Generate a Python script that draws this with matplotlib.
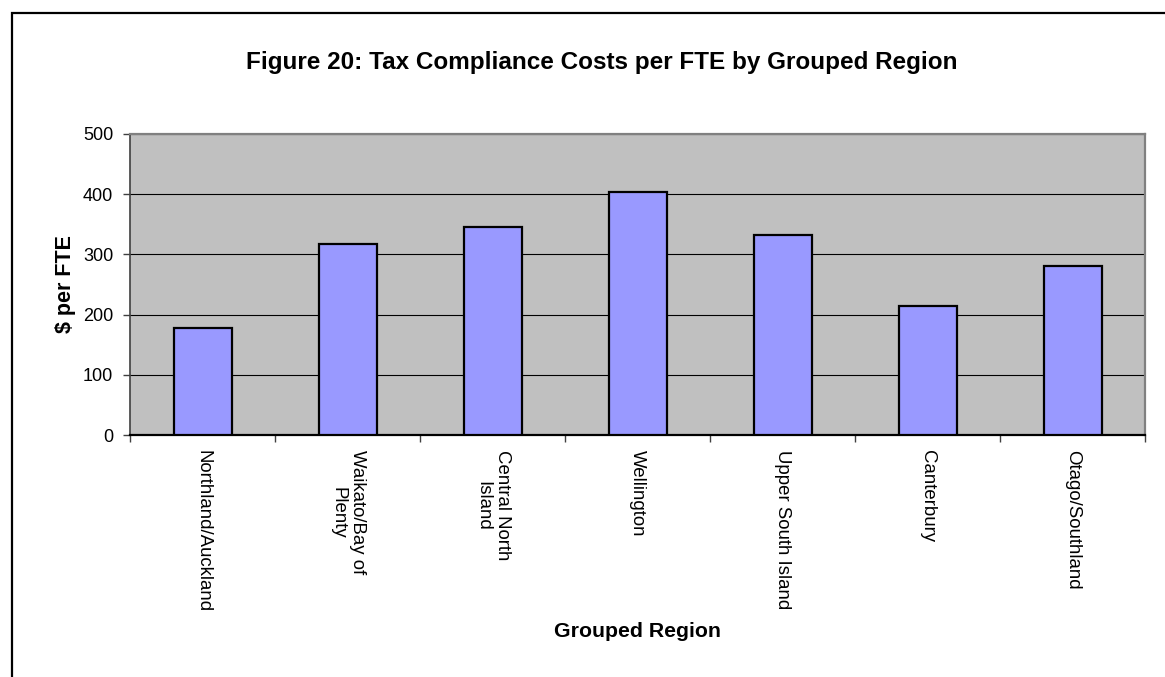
import matplotlib
matplotlib.use("Agg")
import matplotlib.pyplot as plt
from matplotlib.patches import Rectangle
import numpy as np

plt.rcParams['font.family'] = ['Liberation Sans', 'DejaVu Sans']

# compliance cost per FTE, by grouped region
regions = ['Northland/Auckland', 'Waikato/Bay of\nPlenty', 'Central North\nIsland',
           'Wellington', 'Upper South Island', 'Canterbury', 'Otago/Southland']
cost_per_fte = [178, 317, 345, 403, 332, 215, 281]
y_ticks = [0, 100, 200, 300, 400, 500]

fig = plt.figure(figsize=(11.65, 6.77), dpi=100)
ax = fig.add_axes([130 / 1165, 1 - 435 / 677, 1015 / 1165, 301 / 677])

x = np.arange(len(regions))
ax.bar(x, cost_per_fte, width=0.4, color='#9999FF', edgecolor='black',
       linewidth=1.6, zorder=3)

ax.set_facecolor('#C0C0C0')
ax.set_xlim(-0.5, len(regions) - 0.5)
ax.set_ylim(0, 500)
ax.set_yticks(y_ticks)
ax.yaxis.grid(True, color='black', linewidth=0.8, zorder=1)
ax.set_axisbelow(True)

# category labels sit at bar centres, tick marks go between categories
ax.set_xticks(x)
ax.set_xticklabels(regions, rotation=-90, ha='center', va='top',
                   multialignment='center', linespacing=1.2)
ax.set_xticks(np.arange(-0.5, len(regions)), minor=True)
ax.tick_params(axis='x', which='major', length=0, pad=11, labelsize=13.4)
ax.tick_params(axis='x', which='minor', length=5, width=1, color='#404040',
               direction='out')
ax.tick_params(axis='y', length=5, width=1, color='#404040', direction='out',
               pad=7, labelsize=13)

for side in ['top', 'right']:
    ax.spines[side].set_color('#808080')
    ax.spines[side].set_linewidth(1.6)
ax.spines['left'].set_color('#404040')
ax.spines['left'].set_linewidth(1.2)
ax.spines['bottom'].set_color('black')
ax.spines['bottom'].set_linewidth(1.6)

ax.set_ylabel('$ per FTE', fontsize=15.5, fontweight='bold', va='center')
ax.yaxis.set_label_coords(-0.064, 0.5)
ax.set_xlabel('Grouped Region', fontsize=15.3, fontweight='bold', va='center')
ax.xaxis.set_label_coords(0.5, -0.654)

fig.text(602 / 1165, 1 - 62 / 677,
         'Figure 20: Tax Compliance Costs per FTE by Grouped Region',
         ha='center', va='center', fontsize=17.5, fontweight='bold')

# chart frame (runs off the right and bottom edges)
fig.add_artist(Rectangle((12 / 1165, -0.1), 1.2, 1.1 - 13 / 677,
                         transform=fig.transFigure, fill=False,
                         edgecolor='black', linewidth=1.6))

fig.savefig('out.png', dpi=100)
